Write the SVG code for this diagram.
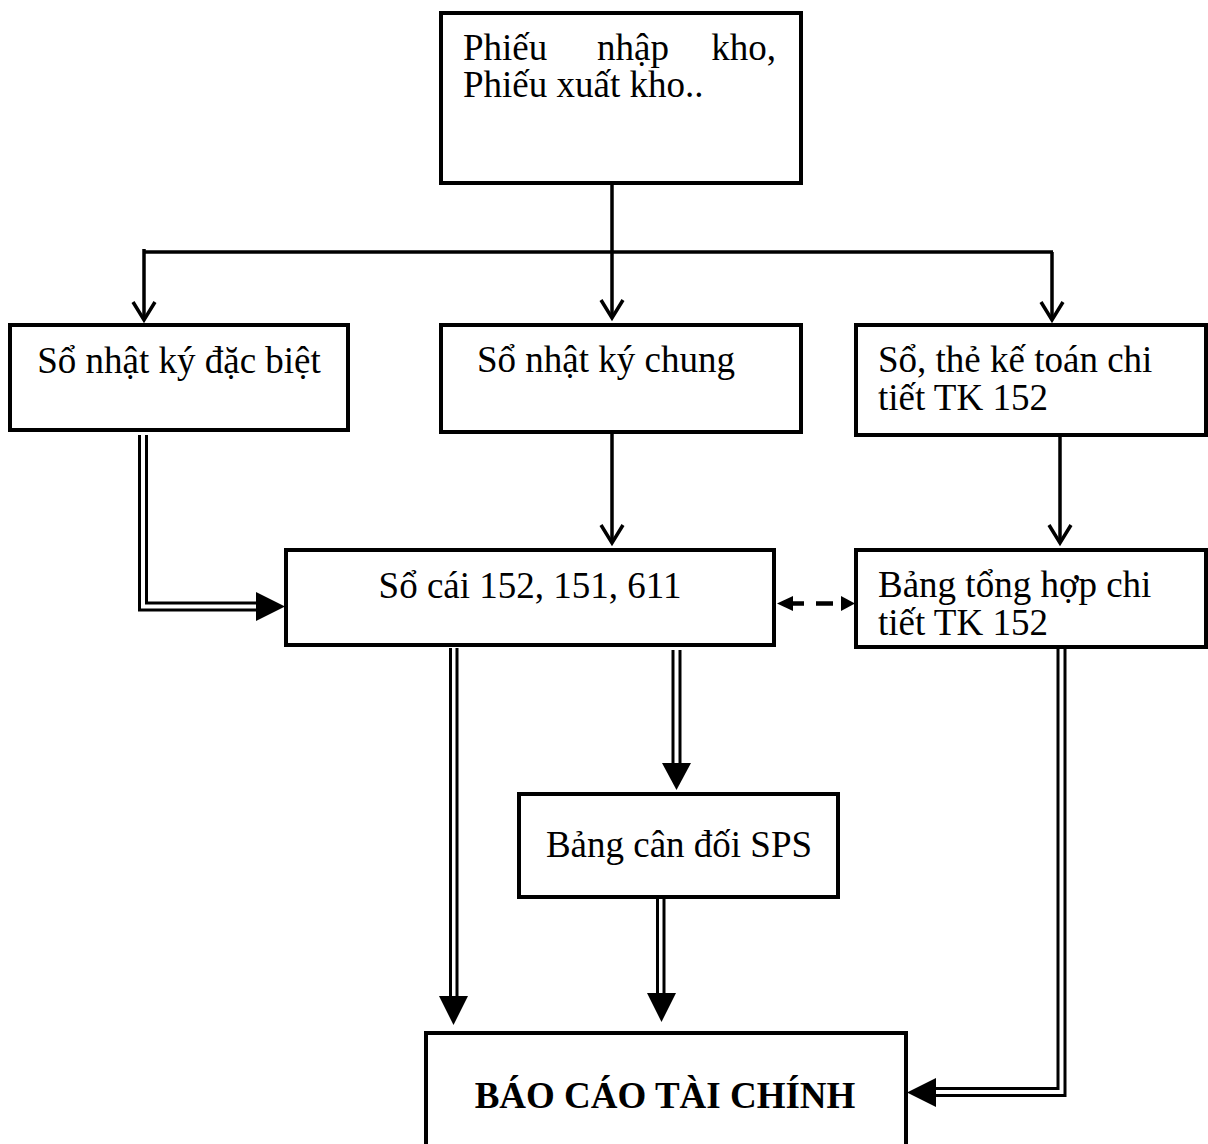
<svg xmlns="http://www.w3.org/2000/svg" width="1208" height="1144" viewBox="0 0 1208 1144">
<style>
.box{fill:#fff;stroke:#000;stroke-width:4}
.t{font-family:"Liberation Serif","Times New Roman",serif;font-size:37px;fill:#000}
.b{font-weight:bold}
.ln{fill:none;stroke:#000;stroke-width:3.5}
.dl{fill:none;stroke:#000;stroke-width:3}
.ah{fill:#000;stroke:none}
.dash{fill:none;stroke:#000;stroke-width:4.5}
</style>
<defs>
<marker id="v" markerUnits="userSpaceOnUse" markerWidth="30" markerHeight="30" refX="22" refY="15" orient="auto" viewBox="0 0 30 30">
<path d="M4,4 L22,15 L4,26" fill="none" stroke="#000" stroke-width="3.5"/>
</marker>
</defs>
<rect width="1208" height="1144" fill="#fff"/>
<g id="connectors">
<path class="ln" d="M612,183 V318" marker-end="url(#v)"/>
<path class="ln" d="M144,252 H1053"/>
<path class="ln" d="M144,249 V320" marker-end="url(#v)"/>
<path class="ln" d="M1052,252 V320" marker-end="url(#v)"/>
<path class="ln" d="M612,432 V543" marker-end="url(#v)"/>
<path class="ln" d="M1060,435 V543" marker-end="url(#v)"/>
<path class="dl" d="M139.5,435 V610 H258"/>
<path class="dl" d="M146.5,435 V603 H258"/>
<polygon class="ah" points="256,592 285,606.5 256,621"/>
<path class="dl" d="M450.5,648 V998"/>
<path class="dl" d="M457,648 V998"/>
<polygon class="ah" points="439,996 468,996 453.5,1025"/>
<path class="dl" d="M673,650 V765"/>
<path class="dl" d="M680,650 V765"/>
<polygon class="ah" points="662,763 691,763 676.5,790"/>
<path class="dl" d="M657.5,899 V995"/>
<path class="dl" d="M664,899 V995"/>
<polygon class="ah" points="647,993 676,993 661.5,1022"/>
<path class="dl" d="M1058,648 V1088.5 H935"/>
<path class="dl" d="M1065,648 V1095.5 H935"/>
<polygon class="ah" points="936,1078 907,1092.5 936,1107"/>
<polygon class="ah" points="777,603.5 793,596 793,611"/>
<path class="dash" d="M792,603.5 H804 M816,603.5 H833"/>
<polygon class="ah" points="855,603.5 841,596 841,611"/>
</g>
<g id="n1">
<rect class="box" x="441" y="13" width="360" height="170"/>
<text class="t" x="463" y="60">Phiếu</text>
<text class="t" x="597" y="60">nhập</text>
<text class="t" x="776" y="60" text-anchor="end">kho,</text>
<text class="t" x="463" y="97">Phiếu xuất kho..</text>
</g>
<g id="n2">
<rect class="box" x="10" y="325" width="338" height="105"/>
<text class="t" x="179" y="373" text-anchor="middle">Sổ nhật ký đặc biệt</text>
</g>
<g id="n3">
<rect class="box" x="441" y="325" width="360" height="107"/>
<text class="t" x="606" y="372" text-anchor="middle">Sổ nhật ký chung</text>
</g>
<g id="n4">
<rect class="box" x="856" y="325" width="350" height="110"/>
<text class="t" x="878" y="372">Sổ, thẻ kế toán chi</text>
<text class="t" x="878" y="410">tiết TK 152</text>
</g>
<g id="n5">
<rect class="box" x="286" y="550" width="488" height="95"/>
<text class="t" x="530" y="598" text-anchor="middle">Sổ cái 152, 151, 611</text>
</g>
<g id="n6">
<rect class="box" x="856" y="550" width="350" height="97"/>
<text class="t" x="878" y="597">Bảng tổng hợp chi</text>
<text class="t" x="878" y="635">tiết TK 152</text>
</g>
<g id="n7">
<rect class="box" x="519" y="794" width="319" height="103"/>
<text class="t" x="679" y="857" text-anchor="middle">Bảng cân đối SPS</text>
</g>
<g id="n8">
<rect class="box" x="426" y="1033" width="480" height="130"/>
<text class="t b" x="665" y="1108" text-anchor="middle">BÁO CÁO TÀI CHÍNH</text>
</g>
</svg>
